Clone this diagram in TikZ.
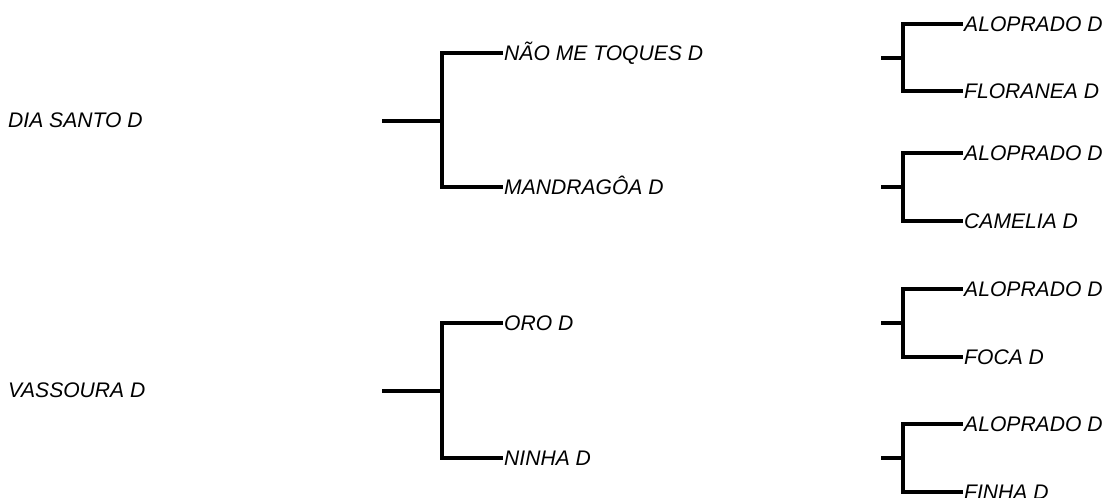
\documentclass[tikz,border=0pt]{standalone}
\usepackage{fontspec}
\setmainfont{Liberation Sans}
\begin{document}
\begin{tikzpicture}[x=1pt,y=-1pt,
  lbl/.style={font=\fontsize{21.1}{25}\selectfont\itshape, anchor=west, inner xsep=1pt, inner ysep=0pt, text height=15pt, text depth=0pt},
  br/.style={line width=3.2pt, black}]
\useasboundingbox (0,0) rectangle (1109,498);
% roots
\node[lbl] (r1) at (7,120) {DIA SANTO D};
\node[lbl] (r2) at (7,390) {VASSOURA D};
% middle brackets
\coordinate (s1) at (382,121);
\coordinate (j1) at (442,121);
\node[lbl] (m1) at (503,53) {NÃO ME TOQUES D};
\node[lbl] (m2) at (503,187) {MANDRAGÔA D};
\draw[br] (s1) -- (j1);
\draw[br] (m1.west) -| (j1) |- (m2.west);
\coordinate (s2) at (382,391);
\coordinate (j2) at (442,391);
\node[lbl] (m3) at (503,323) {ORO D};
\node[lbl] (m4) at (503,458) {NINHA D};
\draw[br] (s2) -- (j2);
\draw[br] (m3.west) -| (j2) |- (m4.west);
% right brackets
\foreach \i/\ys/\yt/\yb/\la/\lb in {1/58/24/91/ALOPRADO D/FLORANEA D,
  2/187/153/221/ALOPRADO D/CAMELIA D,
  3/323/289/357/ALOPRADO D/FOCA D,
  4/458/424/492/ALOPRADO D/FINHA D}{
  \coordinate (t\i) at (881,\ys);
  \coordinate (k\i) at (903,\ys);
  \node[lbl] (ua\i) at (963,\yt) {\la};
  \node[lbl] (ub\i) at (963,\yb) {\lb};
  \draw[br] (t\i) -- (k\i);
  \draw[br] (ua\i.west) -| (k\i) |- (ub\i.west);
}
\end{tikzpicture}
\end{document}
